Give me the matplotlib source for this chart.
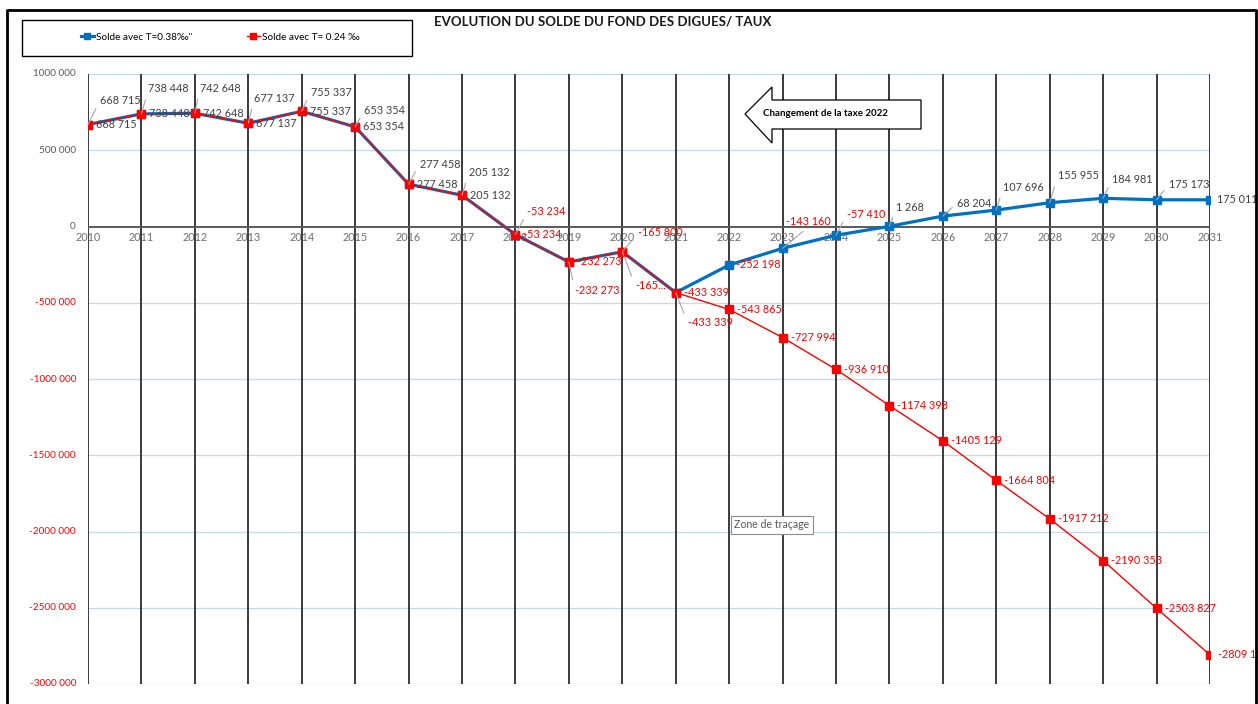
import matplotlib
matplotlib.use("Agg")
import matplotlib.pyplot as plt
from matplotlib.patches import Polygon, Rectangle
from matplotlib.lines import Line2D

plt.rcParams['font.family'] = ['Lato', 'DejaVu Sans']

# données du fonds des digues
annees = list(range(2010, 2032))
solde_038 = [668715, 738448, 742648, 677137, 755337, 653354, 277458, 205132,
             -53234, -232273, -165800, -433339, -252198, -143160, -57410,
             1268, 68204, 107696, 155955, 184981, 175173, 175011]
solde_024 = [668715, 738448, 742648, 677137, 755337, 653354, 277458, 205132,
             -53234, -232273, -165800, -433339, -543865, -727994, -936910,
             -1174398, -1405129, -1664804, -1917212, -2190353, -2503827, -2809155]
yticks = [1000000, 500000, 0, -500000, -1000000, -1500000, -2000000, -2500000, -3000000]

# décalages des étiquettes (pixels) : (dx, dy, trait de rappel)
off_038 = [(12, 24, True), (7, 25, True), (5, 25, True), (6, 25, True), (9, 19, True),
           (9, 16, True), (11, 20, True), (7, 23, True), (12, 23, True), (6, -29, True),
           (13, -34, True), (12, -30, True), (7, 0, False), (26, 27, True), (11, 21, True),
           (7, 19, True), (14, 13, True), (7, 23, True), (8, 27, True), (9, 19, True),
           (12, 15, True), (7, 0, False)]

BLEU = '#0070C0'
ROUGE = '#FF0000'
GRIS = '#404040'
W, H = 1258, 704
FS = 7.2


def fmt(v):
    s = '-' if v < 0 else ''
    a = abs(v)
    if a >= 1000:
        return f"{s}{a // 1000} {a % 1000:03d}"
    return f"{s}{a}"


def fx(px):
    return px / W


def fy(py):
    return 1 - py / H


fig = plt.figure(figsize=(W / 100, H / 100), dpi=100)
ax = fig.add_axes([fx(88), fy(684), fx(1210) - fx(88), fy(74) - fy(684)])
ax.set_xlim(2010, 2031)
ax.set_ylim(-3000000, 1000000)
ax.axis('off')

# grille
for t in yticks:
    if t != 0:
        ax.axhline(t, color='#C5D9EC', lw=0.9, zorder=1)
ax.vlines(annees, -3000000, 1000000, color='#3A3A3A', lw=1.4, zorder=2)
ax.axhline(0, color='#595959', lw=1.4, zorder=2)

for t in yticks:
    ax.annotate(fmt(t), (2010, t), xytext=(-12, 0), textcoords='offset pixels',
                ha='right', va='center', fontsize=FS,
                color=ROUGE if t < 0 else '#595959')
for a in annees:
    ax.annotate(str(a), (a, 0), xytext=(0, -11), textcoords='offset pixels',
                ha='center', va='center', fontsize=7.8, color='#6E6E6E')

ax.plot(annees, solde_038, color=BLEU, lw=2.3, marker='s', ms=6, zorder=4,
        label='Solde avec T=0.38‰"')
ax.plot(annees, solde_024, color=ROUGE, lw=1.0, marker='s', ms=6, zorder=5,
        label='Solde avec T= 0.24 ‰')

# étiquettes de la série 0.38 ‰
for a, v, (dx, dy, trait) in zip(annees, solde_038, off_038):
    txt = '-165...' if a == 2020 else fmt(v)
    ha = 'center' if a == 2023 else 'left'
    arrow = dict(arrowstyle='-', color='#A6A6A6', lw=0.8, shrinkA=2, shrinkB=0,
                 relpos=(0.5, 0) if a == 2023 else (0, 0.5)) if trait else None
    ax.annotate(txt, (a, v), xytext=(dx, dy), textcoords='offset pixels',
                ha=ha, va='center', fontsize=FS + 0.6, color=ROUGE if v < 0 else GRIS,
                arrowprops=arrow, zorder=6)

# étiquettes de la série 0.24 ‰
for a, v in zip(annees, solde_024):
    if a == 2020:
        ax.annotate(fmt(v), (a, v), xytext=(16, 19), textcoords='offset pixels',
                    ha='left', va='center', fontsize=FS + 0.6, color=ROUGE,
                    arrowprops=dict(arrowstyle='-', color='#A6A6A6', lw=0.8,
                                    shrinkA=2, shrinkB=0, relpos=(0, 0.5)), zorder=6)
        continue
    ax.annotate(fmt(v), (a, v), xytext=(8, 0), textcoords='offset pixels',
                ha='left', va='center', fontsize=FS + 0.6, color=ROUGE if v < 0 else GRIS,
                zorder=6, annotation_clip=False)

# cadre extérieur
fig.add_artist(Line2D([fx(7), fx(7), fx(1256), fx(1256)], [0, fy(10), fy(10), 0],
                      color='black', lw=2))

fig.text(fx(603), fy(22), 'EVOLUTION DU SOLDE DU FOND DES DIGUES/ TAUX',
         ha='center', va='center', fontsize=9.5, fontweight='bold', color='#1A1A1A')

# légende
fig.add_artist(Rectangle((fx(22), fy(56)), fx(412) - fx(22), fy(20) - fy(56),
                         fill=False, edgecolor='black', lw=1))
fig.legend(loc='center', bbox_to_anchor=(fx(220), fy(37)), ncol=2, frameon=False,
           fontsize=FS, handlelength=1.3, handletextpad=0.2, columnspacing=5.5,
           markerscale=0.8)

# flèche "Changement de la taxe 2022"
pts = [(745, 114), (772, 87), (772, 100), (921, 100), (921, 129), (772, 129), (772, 143)]
fig.add_artist(Polygon([(fx(x), fy(y)) for x, y in pts], closed=True,
                       facecolor='white', edgecolor='black', lw=0.9, zorder=10))
fig.text(fx(825), fy(113), 'Changement de la taxe 2022', ha='center', va='center',
         fontsize=7, fontweight='bold', color='black', zorder=11)

fig.text(fx(772), fy(525), 'Zone de traçage', ha='center', va='center', fontsize=FS + 0.4,
         color='#595959', zorder=11,
         bbox=dict(boxstyle='square,pad=0.3', facecolor='white', edgecolor='#8C8C8C', lw=0.8))

fig.savefig('out.png', dpi=100)
